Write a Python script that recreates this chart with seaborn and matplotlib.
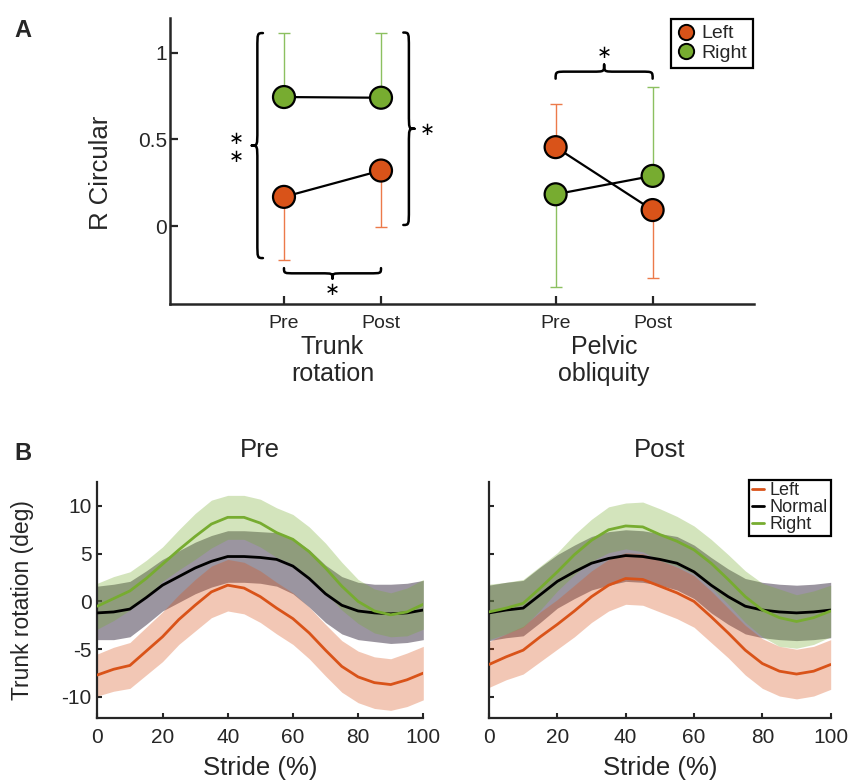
import numpy as np
import pandas as pd
import matplotlib
matplotlib.use("Agg")
import matplotlib.pyplot as plt
from matplotlib.path import Path
from matplotlib.patches import PathPatch
from matplotlib.lines import Line2D
from matplotlib.transforms import blended_transform_factory
import seaborn as sns


# ─────────────────────────────────────────────
# Data, panel A  (R circular, one-sided error bars)
# ─────────────────────────────────────────────
phases = ["Pre", "Post"]
joints = ["Trunk\nrotation", "Pelvic\nobliquity"]
sides = ["Left", "Right"]

trunk_left = [0.168, 0.320]
trunk_left_lo = [0.365, 0.328]
trunk_left_hi = [0.0, 0.0]
trunk_right = [0.744, 0.740]
trunk_right_lo = [0.0, 0.0]
trunk_right_hi = [0.369, 0.376]

pelvic_left = [0.455, 0.092]
pelvic_left_lo = [0.0, 0.394]
pelvic_left_hi = [0.250, 0.0]
pelvic_right = [0.183, 0.289]
pelvic_right_lo = [0.537, 0.0]
pelvic_right_hi = [0.0, 0.514]

# ─────────────────────────────────────────────
# Data, panel B  (trunk rotation over stride, mean and sd)
# ─────────────────────────────────────────────
stride = [0, 5, 10, 15, 20, 25, 30, 35, 40, 45, 50, 55, 60, 65, 70, 75, 80, 85, 90, 95, 100]

pre_left_mean = [-7.7, -7.1, -6.7, -5.2, -3.7, -1.9, -0.4, 1.0, 1.7, 1.4, 0.5, -0.7, -1.8, -3.3, -5.1, -6.8, -7.9, -8.5, -8.7, -8.2, -7.5]
pre_left_sd = [2.2, 2.3, 2.4, 2.5, 2.6, 2.6, 2.7, 2.7, 2.7, 2.7, 2.7, 2.7, 2.7, 2.7, 2.7, 2.7, 2.7, 2.7, 2.7, 2.8, 2.8]
pre_normal_mean = [-1.2, -1.1, -0.8, 0.4, 1.7, 2.6, 3.5, 4.2, 4.7, 4.7, 4.6, 4.4, 3.7, 2.4, 0.8, -0.4, -1.0, -1.2, -1.3, -1.2, -0.9]
pre_normal_sd = [2.8, 2.9, 2.9, 2.8, 2.7, 2.7, 2.7, 2.7, 2.7, 2.7, 2.7, 2.8, 2.9, 3.0, 3.0, 3.0, 3.0, 3.0, 3.1, 3.1, 3.1]
pre_right_mean = [-0.5, 0.3, 1.1, 2.4, 3.9, 5.4, 6.8, 8.1, 8.8, 8.8, 8.2, 7.2, 6.5, 5.2, 3.5, 1.6, 0.0, -1.0, -1.4, -1.1, -0.3]
pre_right_sd = [2.4, 2.3, 2.0, 1.9, 1.8, 2.1, 2.4, 2.5, 2.3, 2.3, 2.5, 2.6, 2.6, 2.6, 2.6, 2.5, 2.3, 2.3, 2.3, 2.5, 2.6]

post_left_mean = [-6.6, -5.8, -5.1, -3.7, -2.4, -1.0, 0.5, 1.7, 2.4, 2.3, 1.6, 0.9, 0.0, -1.6, -3.3, -5.1, -6.5, -7.3, -7.6, -7.3, -6.6]
post_left_sd = [2.4, 2.4, 2.5, 2.6, 2.6, 2.7, 2.7, 2.7, 2.7, 2.7, 2.7, 2.7, 2.7, 2.7, 2.6, 2.6, 2.6, 2.6, 2.6, 2.6, 2.6]
post_normal_mean = [-1.2, -0.9, -0.7, 0.7, 2.1, 3.1, 4.0, 4.5, 4.8, 4.7, 4.4, 4.0, 3.1, 1.7, 0.5, -0.5, -0.9, -1.1, -1.2, -1.1, -0.9]
post_normal_sd = [2.9, 2.9, 2.9, 2.9, 2.8, 2.8, 2.8, 2.8, 2.7, 2.7, 2.7, 2.8, 2.8, 2.9, 2.9, 2.9, 2.9, 2.9, 2.9, 2.9, 2.9]
post_right_mean = [-1.1, -0.7, -0.2, 1.4, 3.1, 4.9, 6.4, 7.5, 7.9, 7.8, 7.0, 6.3, 5.4, 4.0, 2.3, 0.5, -0.9, -1.7, -2.1, -1.7, -1.0]
post_right_sd = [2.9, 2.7, 2.5, 2.3, 2.0, 2.1, 2.2, 2.4, 2.4, 2.6, 2.7, 2.6, 2.5, 2.5, 2.6, 2.7, 2.8, 3.0, 2.8, 2.8, 2.7]

# ─────────────────────────────────────────────
# Style
# ─────────────────────────────────────────────
sns.set_theme(style="ticks")
plt.rcParams["font.family"] = ["Liberation Sans", "DejaVu Sans"]
plt.rcParams["axes.unicode_minus"] = False

ORANGE = "#D95319"
GREEN = "#77AC30"
GRAY = "#4a3f52"
side_colors = {"Left": ORANGE, "Right": GREEN, "Normal": "black"}
band_colors = {"Left": (ORANGE, 0.32), "Right": (GREEN, 0.32), "Normal": (GRAY, 0.55)}
err_colors = {"Left": "#EC7A4A", "Right": "#8CC060"}

fig = plt.figure(figsize=(8.48, 7.82), dpi=100)
W, H = 848, 782


def px_axes(left, top, right, bottom):
    return fig.add_axes([left / W, 1 - bottom / H, (right - left) / W, (bottom - top) / H])


def brace(ax, a, b, at, depth, rad, vertical=False, lw=1.8):
    # curly brace from a to b (along), base at `at`, tip at at+depth (across)
    s = np.sign(b - a)
    m = (a + b) / 2
    h = at + depth / 2
    t = at + depth
    pts = [(a, at), (a, h), (a, h), (a + s * rad, h), (m - s * rad, h),
           (m, h), (m, h), (m, t), (m, h), (m, h), (m + s * rad, h),
           (b - s * rad, h), (b, h), (b, h), (b, at)]
    codes = [Path.MOVETO, Path.CURVE4, Path.CURVE4, Path.CURVE4, Path.LINETO,
             Path.CURVE4, Path.CURVE4, Path.CURVE4, Path.CURVE4, Path.CURVE4, Path.CURVE4,
             Path.LINETO, Path.CURVE4, Path.CURVE4, Path.CURVE4]
    if vertical:
        pts = [(v, u) for u, v in pts]
    ax.add_patch(PathPatch(Path(pts, codes), fill=False, lw=lw, color="black",
                           capstyle="round", joinstyle="round", clip_on=False))


def star(ax, x, y):
    ax.text(x, y, "\u2217", ha="center", va="center", fontsize=13,
            family="DejaVu Sans", color="black")


# ─────────────────────────────────────────────
# Panel A
# ─────────────────────────────────────────────
xpos = {joints[0]: [1.0, 2.0], joints[1]: [3.8, 4.8]}
rows = []
for joint, vals in [(joints[0], {"Left": (trunk_left, trunk_left_lo, trunk_left_hi),
                                 "Right": (trunk_right, trunk_right_lo, trunk_right_hi)}),
                    (joints[1], {"Left": (pelvic_left, pelvic_left_lo, pelvic_left_hi),
                                 "Right": (pelvic_right, pelvic_right_lo, pelvic_right_hi)})]:
    for side in sides:
        v, lo, hi = vals[side]
        for i, ph in enumerate(phases):
            rows.append(dict(joint=joint, side=side, phase=ph, value=v[i],
                             lo=lo[i], hi=hi[i], x=xpos[joint][i]))
df_a = pd.DataFrame(rows)

axA = px_axes(170, 18, 754, 304)
for (joint, side), g in df_a.groupby(["joint", "side"], sort=False):
    axA.errorbar(g["x"], g["value"], yerr=[g["lo"], g["hi"]], fmt="none",
                 ecolor=err_colors[side], elinewidth=1.0, capsize=4.5, capthick=1.0, zorder=1)
    axA.plot(g["x"], g["value"], color="black", lw=1.6, zorder=2)
sns.scatterplot(data=df_a, x="x", y="value", hue="side", palette=side_colors,
                hue_order=sides, s=250, edgecolor="black", linewidth=1.6,
                legend=False, zorder=3, ax=axA)

axA.set_xlim(-0.175, 5.845)
axA.set_ylim(-0.45, 1.2)
axA.set_xticks(xpos[joints[0]] + xpos[joints[1]])
axA.set_xticklabels(phases * 2)
axA.set_yticks([0, 0.5, 1])
axA.set_yticklabels(["0", "0.5", "1"])
axA.set_xlabel("")
axA.set_ylabel("R Circular", fontsize=18.5)
axA.yaxis.set_label_coords(-0.098, 0.46)
axA.tick_params(axis="y", direction="in", length=5.5, width=1.6, labelsize=15, pad=2)
axA.tick_params(axis="x", direction="in", length=5.5, width=1.6, labelsize=14, pad=8)
sns.despine(ax=axA)
for sp in ["left", "bottom"]:
    axA.spines[sp].set_linewidth(1.8)

tr = blended_transform_factory(axA.transData, axA.transAxes)
for joint in joints:
    axA.text(np.mean(xpos[joint]), -0.11, joint, transform=tr, ha="center", va="top",
             fontsize=18, linespacing=1.15)

# significance braces
t0, t1 = xpos[joints[0]]
p0, p1 = xpos[joints[1]]
brace(axA, t0, t1, -0.243, -0.06, 0.12)
star(axA, (t0 + t1) / 2, -0.37)
brace(axA, 1.113, -0.185, t0 - 0.217, -0.115, 0.09, vertical=True)
star(axA, t0 - 0.495, 0.503)
star(axA, t0 - 0.495, 0.399)
brace(axA, 1.116, 0.006, t1 + 0.23, 0.115, 0.09, vertical=True)
star(axA, t1 + 0.474, 0.555)
brace(axA, p0, p1, 0.85, 0.081, 0.12)
star(axA, (p0 + p1) / 2, 1.0)

legA = axA.legend(handles=[Line2D([], [], ls="none", marker="o", ms=11, mfc=side_colors[s],
                                  mec="black", mew=1.4, label=s) for s in sides],
                  loc="upper right", fontsize=14, frameon=True, fancybox=False,
                  edgecolor="black", framealpha=1, borderaxespad=0.05, borderpad=0.3,
                  handlelength=0.9, handletextpad=0.35, labelspacing=0.1)
legA.get_frame().set_linewidth(1.6)

# ─────────────────────────────────────────────
# Panel B
# ─────────────────────────────────────────────
curves = {
    "Pre": {"Left": (pre_left_mean, pre_left_sd), "Normal": (pre_normal_mean, pre_normal_sd),
            "Right": (pre_right_mean, pre_right_sd)},
    "Post": {"Left": (post_left_mean, post_left_sd), "Normal": (post_normal_mean, post_normal_sd),
             "Right": (post_right_mean, post_right_sd)},
}
rows = []
for ph, d in curves.items():
    for side, (m, sd) in d.items():
        for s, mi, si in zip(stride, m, sd):
            rows.append(dict(phase=ph, side=side, stride=s, mean=mi, sd=si))
df_b = pd.DataFrame(rows)

axB1 = px_axes(97.3, 482, 423.3, 718)
axB2 = px_axes(489, 482, 830.7, 718)
hue_order = ["Left", "Normal", "Right"]

for ax, ph in [(axB1, "Pre"), (axB2, "Post")]:
    sub = df_b[df_b["phase"] == ph]
    for side in ["Normal", "Left", "Right"]:
        g = sub[sub["side"] == side]
        col, a = band_colors[side]
        ax.fill_between(g["stride"], g["mean"] - g["sd"], g["mean"] + g["sd"],
                        color=col, alpha=a, lw=0, zorder=1)
    sns.lineplot(data=sub, x="stride", y="mean", hue="side", hue_order=hue_order,
                 palette=side_colors, estimator=None, linewidth=2.0, legend=False,
                 zorder=3, ax=ax)
    ax.set_xlim(0, 100)
    ax.set_ylim(-12.2, 12.5)
    ax.set_xticks([0, 20, 40, 60, 80, 100])
    ax.set_yticks([-10, -5, 0, 5, 10])
    ax.tick_params(direction="in", length=3.5, width=1.5, labelsize=15)
    ax.tick_params(axis="x", pad=7)
    ax.tick_params(axis="y", pad=4)
    ax.set_title(ph, fontsize=18.5, pad=18)
    ax.set_xlabel("Stride (%)", fontsize=18.5)
    ax.xaxis.set_label_coords(0.5, -0.16)
    ax.set_ylabel("")
    sns.despine(ax=ax)
    for sp in ["left", "bottom"]:
        ax.spines[sp].set_linewidth(1.6)

axB1.set_ylabel("Trunk rotation (deg)", fontsize=16.5)
axB1.yaxis.set_label_coords(-0.193, 0.5)
axB2.tick_params(axis="y", labelleft=False)

legB = axB2.legend(handles=[Line2D([], [], color=side_colors[s], lw=2, label=s) for s in hue_order],
                   loc="upper right", fontsize=13, frameon=True, fancybox=False,
                   edgecolor="black", framealpha=1, borderaxespad=0.0, borderpad=0.15,
                   handlelength=0.7, handletextpad=0.3, labelspacing=0.0,
                   bbox_to_anchor=(1.0, 1.01))
legB.get_frame().set_linewidth(1.6)

fig.text(14 / W, 1 - 37 / H, "A", fontsize=17, fontweight="bold", ha="left", va="baseline")
fig.text(14 / W, 1 - 460 / H, "B", fontsize=17, fontweight="bold", ha="left", va="baseline")

fig.savefig("out.png", dpi=100)
